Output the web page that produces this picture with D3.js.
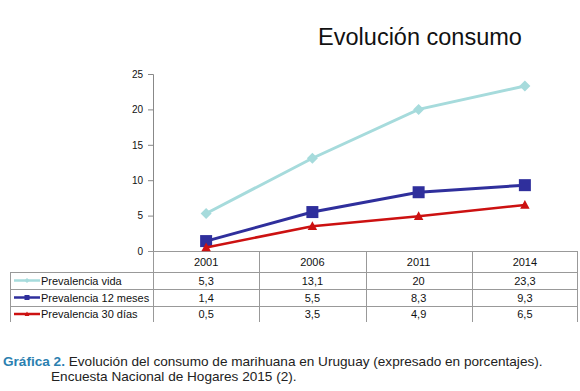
<!DOCTYPE html>
<html><head><meta charset="utf-8">
<script src="https://cdn.jsdelivr.net/npm/d3@7"></script>
<style>
html,body{margin:0;padding:0;background:#fff;}
svg{display:block;font-family:"Liberation Sans",Arial,Helvetica,sans-serif;}
</style></head>
<body>
<svg id="c" width="580" height="391"></svg>
<script>
const years = ["2001","2006","2011","2014"];
const seriesNames = ["Prevalencia vida","Prevalencia 12 meses","Prevalencia 30 días"];
const vida = [5.3, 13.1, 20, 23.3];
const meses12 = [1.4, 5.5, 8.3, 9.3];
const dias30 = [0.5, 3.5, 4.9, 6.5];
const cellLabels = [["5,3","13,1","20","23,3"],["1,4","5,5","8,3","9,3"],["0,5","3,5","4,9","6,5"]];
const yTicks = [0,5,10,15,20,25];
const title = "Evolución consumo";

const series = [
  {name: seriesNames[0], values: vida, color: "#a6dbdc", marker: "diamond"},
  {name: seriesNames[1], values: meses12, color: "#2f2f9c", marker: "square"},
  {name: seriesNames[2], values: dias30, color: "#cc1111", marker: "triangle"}
];

const svg = d3.select("#c");
const x = d3.scaleBand().domain(years).range([153, 578]).padding(0);
const y = d3.scaleLinear().domain([0, 25]).range([251, 74]);
const cx = d => x(d) + x.bandwidth()/2;

// title
svg.append("text").attr("x", 420).attr("y", 45).attr("text-anchor","middle")
  .attr("font-size", 23.5).attr("fill","#111").text(title);

// y axis
const ya = svg.append("g").attr("transform","translate(153,0)")
  .call(d3.axisLeft(y).tickValues(yTicks).tickSize(5).tickPadding(5).tickFormat(d3.format("d")));
ya.select(".domain").attr("stroke","#888").attr("stroke-width",1);
ya.selectAll(".tick line").attr("stroke","#888");
ya.selectAll(".tick text").attr("font-size",10).attr("fill","#111").attr("font-family","Liberation Sans, Arial, sans-serif");

// table grid
const gridColor = "#999";
const rowTop = [251, 272, 289, 306, 322];
const g = svg.append("g").attr("stroke", gridColor).attr("stroke-width",1).attr("shape-rendering","crispEdges");
g.append("line").attr("x1",148).attr("x2",578).attr("y1",rowTop[0]+0.5).attr("y2",rowTop[0]+0.5);
[1,2,3].forEach(i=> g.append("line").attr("x1",10).attr("x2",578).attr("y1",rowTop[i]+0.5).attr("y2",rowTop[i]+0.5));
years.forEach(yr => g.append("line").attr("x1",x(yr)+0.5).attr("x2",x(yr)+0.5).attr("y1",251).attr("y2",322));
g.append("line").attr("x1",577.5).attr("x2",577.5).attr("y1",251).attr("y2",322);
g.append("line").attr("x1",10.5).attr("x2",10.5).attr("y1",272).attr("y2",322);

// header years
svg.selectAll("text.yr").data(years).enter().append("text").attr("class","yr")
  .attr("x", d=>cx(d)).attr("y", 266).attr("text-anchor","middle").attr("font-size",11).attr("fill","#111").text(d=>d);

// markers
function marker(sel, type, color, size){
  const h = size/2;
  if(type==="diamond"){
    sel.append("path").attr("d", `M0,${-h}L${h},0L0,${h}L${-h},0Z`).attr("fill", color);
  } else if(type==="square"){
    sel.append("rect").attr("x",-h).attr("y",-h).attr("width",size).attr("height",size).attr("fill",color);
  } else {
    sel.append("path").attr("d", `M0,${-h}L${h*0.95},${h*0.75}L${-h*0.95},${h*0.75}Z`).attr("fill",color);
  }
}

const line = d3.line().x((d,i)=>cx(years[i])).y(d=>y(d));
const msize = {diamond: 11, square: 12, triangle: 10};
const lw = {diamond: 3, square: 3, triangle: 2.5};
series.forEach(s=>{
  svg.append("path").datum(s.values).attr("d", line).attr("fill","none")
    .attr("stroke", s.color).attr("stroke-width", lw[s.marker]);
  s.values.forEach((v,i)=>{
    const m = svg.append("g").attr("transform",`translate(${cx(years[i])},${y(v)})`);
    marker(m, s.marker, s.color, msize[s.marker]);
  });
});

// table rows
series.forEach((s,r)=>{
  const top = rowTop[r+1], bot = rowTop[r+2];
  const mid = (top+bot)/2;
  svg.append("line").attr("x1",14).attr("x2",40).attr("y1",mid).attr("y2",mid).attr("stroke",s.color).attr("stroke-width",2.5);
  const mg = svg.append("g").attr("transform",`translate(27,${mid})`);
  marker(mg, s.marker, s.color, 5);
  svg.append("text").attr("x",41).attr("y",mid+4).attr("font-size",11).attr("fill","#111").text(s.name);
  cellLabels[r].forEach((c,i)=>{
    svg.append("text").attr("x",cx(years[i])).attr("y",mid+4).attr("text-anchor","middle")
      .attr("font-size",11).attr("fill","#111").text(c);
  });
});

// caption
const cap = svg.append("text").attr("x",3).attr("y",366).attr("font-size",13.6).attr("fill","#222");
cap.append("tspan").attr("fill","#2a80b0").attr("font-weight","bold").text("Gráfica 2.");
cap.append("tspan").text(" Evolución del consumo de marihuana en Uruguay (expresado en porcentajes).");
svg.append("text").attr("x",51).attr("y",381).attr("font-size",13.6).attr("fill","#222")
  .text("Encuesta Nacional de Hogares 2015 (2).");
</script>
</body></html>
